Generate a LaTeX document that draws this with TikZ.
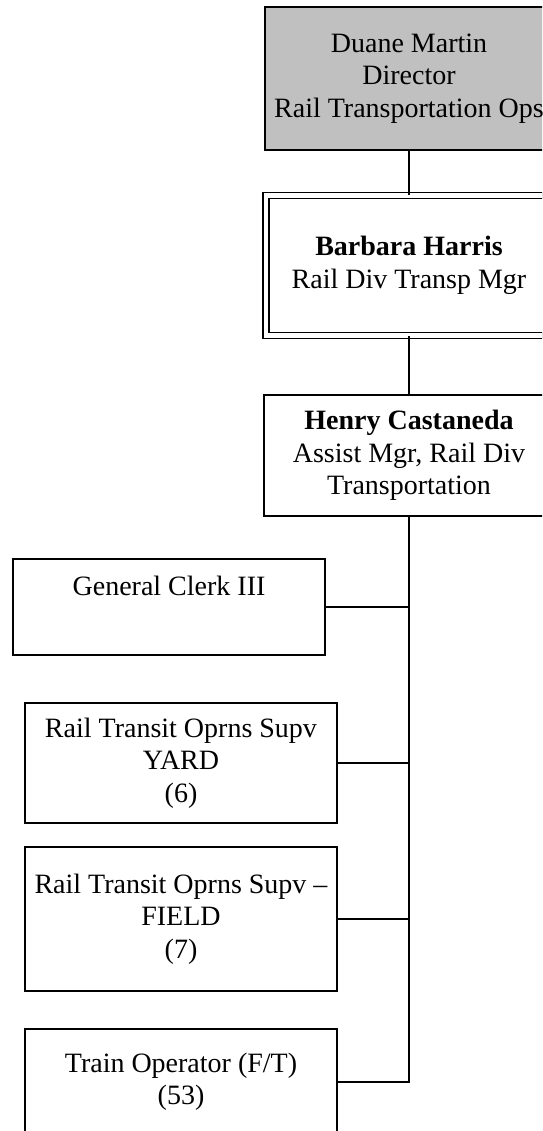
\documentclass[tikz,border=0pt]{standalone}
\usepackage{fontspec}
\setmainfont{Liberation Serif}
\tikzset{
  orgbox/.style={draw=black, line width=1.8pt, rectangle, align=center, inner sep=0pt,
    font=\fontsize{28}{32.5}\selectfont, fill=white},
  link/.style={draw=black, line width=1.8pt}
}
\definecolor{topgray}{RGB}{192,192,192}
\begin{document}
\begin{tikzpicture}[x=1pt, y=-1pt]
\useasboundingbox (0,0) rectangle (542,1131);
\clip (0,0) rectangle (542,1131);
\node[orgbox, fill=topgray, minimum width=288pt, minimum height=143pt] (dm) at (409,78.5)
  {Duane Martin\\Director\\Rail Transportation Ops};
\node[orgbox, line width=1.3pt, double, double distance=4.5pt, minimum width=286pt, minimum height=139.5pt] (bh) at (409,265.5)
  {\textbf{Barbara Harris}\\Rail Div Transp Mgr};
\node[orgbox, minimum width=290pt, minimum height=121pt] (hc) at (409,455.5)
  {\textbf{Henry Castaneda}\\Assist Mgr, Rail Div\\Transportation};
\node[orgbox, minimum width=312pt, minimum height=96pt] (gc) at (169,607)
  {General Clerk III\\\strut};
\node[orgbox, minimum width=312pt, minimum height=120pt] (yd) at (181,763)
  {Rail Transit Oprns Supv\\YARD\\(6)};
\node[orgbox, minimum width=312pt, minimum height=144pt] (fd) at (181,919)
  {Rail Transit Oprns Supv –\\FIELD\\(7)};
\node[orgbox, minimum width=312pt, minimum height=106pt] (to) at (181,1082)
  {Train Operator (F/T)\\(53)};
\draw[link] (dm.south) -- (bh.north);
\draw[link] (bh.south) -- (hc.north);
\draw[link] (hc.south) |- (to.east);
\draw[link] (gc.east) -- (gc.east -| hc.south);
\draw[link] (yd.east) -- (yd.east -| hc.south);
\draw[link] (fd.east) -- (fd.east -| hc.south);
\end{tikzpicture}
\end{document}
